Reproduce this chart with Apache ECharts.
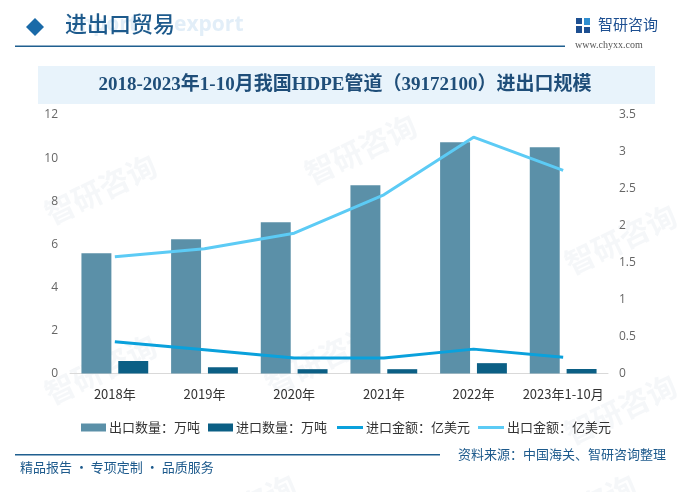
<!DOCTYPE html>
<html><head><meta charset="utf-8">
<script src="https://cdn.jsdelivr.net/npm/echarts@6/dist/echarts.min.js"></script>
<style>html,body{margin:0;padding:0;background:#fff}#c{width:690px;height:492px}</style>
</head><body><div id="c"></div>
<script>
const categories = ['2018年','2019年','2020年','2021年','2022年','2023年1-10月'];
const exportQty = [5.58, 6.23, 7.02, 8.74, 10.74, 10.5];
const importQty = [0.58, 0.29, 0.2, 0.2, 0.48, 0.21];
const importAmt = [0.43, 0.32, 0.21, 0.21, 0.33, 0.22];
const exportAmt = [1.58, 1.69, 1.9, 2.42, 3.2, 2.75];
const seriesNames = ['出口数量：万吨','进口数量：万吨','进口金额：亿美元','出口金额：亿美元'];
const leftTicks = {min:0, max:12, interval:2};
const rightTicks = {min:0, max:3.5, interval:0.5};

const chart = echarts.init(document.getElementById('c'), null, {renderer:'canvas'});
const cjk = '"Noto Sans CJK SC", "Noto Sans", sans-serif';
const wm = [];
[[40,150],[300,110],[40,330],[260,320],[560,200],[560,370],[180,470],[520,470]].forEach(p=>{
  wm.push({type:'text', left:p[0], top:p[1], rotation:Math.PI/7, z:-10, silent:true,
    style:{text:'智研咨询', fill:'rgba(190,205,220,0.16)', font:'bold 30px '+cjk}});
});
const legendText = {fontSize:13, color:'#333', fontFamily:cjk, padding:[0,0,0,-2]};
chart.setOption({
  backgroundColor:'#fff',
  animation:false,
  graphic: wm.concat([
    {type:'polygon', shape:{points:[[35,18],[44,27],[35,36],[26,27]]}, style:{fill:'#1a6aa8'}},
    {type:'text', left:66, top:15, z:1, style:{text:'import', fill:'#e2eef8', font:'bold 21px "Open Sans", Arial, sans-serif'}},
    {type:'text', left:174, top:15, z:1, style:{text:'export', fill:'#e2eef8', font:'bold 21px "Open Sans", Arial, sans-serif'}},
    {type:'text', left:65, top:13, z:2, style:{text:'进出口贸易', fill:'#1d5a8c', font:'500 22px '+cjk}},
    {type:'rect', shape:{x:15, y:45.5, width:550, height:1.5}, style:{fill:'#1f5f8f'}},
    {type:'rect', shape:{x:576, y:18, width:6, height:6}, style:{fill:'#1d4f91'}},
    {type:'rect', shape:{x:576, y:26, width:6, height:7}, style:{fill:'#1d4f91'}},
    {type:'rect', shape:{x:584, y:18, width:6, height:7}, style:{fill:'#2f8ed0'}},
    {type:'rect', shape:{x:584, y:27, width:6, height:6}, style:{fill:'#1d4f91'}},
    {type:'text', left:598, top:17, style:{text:'智研咨询', fill:'#1d4f91', font:'15px '+cjk}},
    {type:'text', left:575, top:40, style:{text:'www.chyxx.com', fill:'#555', font:'10px "Liberation Serif", serif'}},
    {type:'rect', shape:{x:38, y:66, width:617, height:38}, style:{fill:'#e8f3fb'}},
    {type:'text', left:'center', top:76, style:{text:'2018-2023年1-10月我国HDPE管道（39172100）进出口规模', fill:'#1f4e79', font:'bold 19px "Liberation Serif", "Noto Sans CJK SC", serif'}},
    {type:'rect', shape:{x:15, y:454, width:425, height:1.5}, style:{fill:'#1f5f8f'}},
    {type:'text', right:24, top:448, style:{text:'资料来源：中国海关、智研咨询整理', fill:'#1d5a8c', font:'13px '+cjk}},
    {type:'text', left:20, top:461, style:{text:'精品报告 · 专项定制 · 品质服务', fill:'#1d5a8c', font:'13px '+cjk}}
  ]),
  grid:{left:70, right:82, top:115, bottom:118.5},
  legend:[
    {data:[seriesNames[0], seriesNames[1]], left:76, top:416, itemWidth:25, itemHeight:8, itemGap:8, icon:'rect',
     textStyle:legendText},
    {data:[seriesNames[2], seriesNames[3]], left:332, top:416, itemWidth:26, itemHeight:3, itemGap:8, icon:'rect',
     textStyle:legendText}
  ],
  xAxis:{
    type:'category', data:categories,
    axisLine:{lineStyle:{color:'#d9d9d9', width:1}}, axisTick:{show:false},
    axisLabel:{color:'#333', fontSize:13, margin:14, fontFamily:cjk, interval:0}
  },
  yAxis:[
    {type:'value', min:leftTicks.min, max:leftTicks.max, interval:leftTicks.interval,
     axisLine:{show:false}, axisTick:{show:false}, splitLine:{show:false},
     axisLabel:{color:'#666', fontSize:12, margin:12, fontFamily:'"Open Sans", sans-serif'}},
    {type:'value', min:rightTicks.min, max:rightTicks.max, interval:rightTicks.interval,
     axisLine:{show:false}, axisTick:{show:false}, splitLine:{show:false},
     axisLabel:{color:'#666', fontSize:12, margin:11, fontFamily:'"Open Sans", sans-serif'}}
  ],
  series:[
    {name:seriesNames[0], type:'bar', data:exportQty, barWidth:'33.4%', barGap:'23%', itemStyle:{color:'#5b90a8'}},
    {name:seriesNames[1], type:'bar', data:importQty, barWidth:'33.4%', barGap:'23%', itemStyle:{color:'#0b5f85'}},
    {name:seriesNames[2], type:'line', yAxisIndex:1, data:importAmt, showSymbol:false, symbol:'none',
     lineStyle:{color:'#0aa1dc', width:3}, itemStyle:{color:'#0aa1dc'}, z:5},
    {name:seriesNames[3], type:'line', yAxisIndex:1, data:exportAmt, showSymbol:false, symbol:'none',
     lineStyle:{color:'#5ccbf5', width:3}, itemStyle:{color:'#5ccbf5'}, z:5}
  ]
});
</script></body></html>
